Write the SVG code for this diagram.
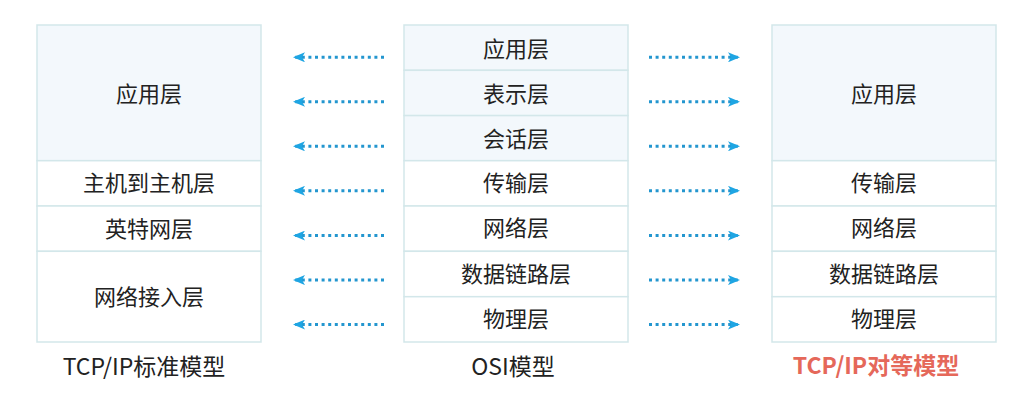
<svg xmlns="http://www.w3.org/2000/svg" width="1024" height="409" viewBox="0 0 1024 409">
<defs>
<style>
.cell{stroke:#d3e7ea;stroke-width:1.5}
.tint{fill:#f3f8fc}
.plain{fill:#ffffff}
.t{font-family:"Noto Sans CJK SC","Liberation Sans",sans-serif;font-size:22px;fill:#222222;text-anchor:middle}
.cap{font-family:"Noto Sans CJK SC","Liberation Sans",sans-serif;font-size:23px;fill:#222222;text-anchor:middle}
.red{fill:#e5685a;font-weight:bold}
.dot{stroke:#2396cf;stroke-width:3;stroke-dasharray:3 3.6;fill:none}
.head{fill:#1ea5e3}
</style>
<marker id="ah" viewBox="0 0 12 10" refX="12" refY="5" markerWidth="12" markerHeight="10" markerUnits="userSpaceOnUse" orient="auto">
<path d="M0,0 L12,5 L0,10 L3,5 Z" class="head"/>
</marker>
</defs>
<rect width="1024" height="409" fill="#ffffff"/>

<g id="tcpip-standard">
<g id="std-app"><rect class="cell tint" x="37" y="25" width="224" height="135.7"/><text class="t" x="149" y="102">应用层</text></g>
<g id="std-host"><rect class="cell plain" x="37" y="160.7" width="224" height="45.3"/><text class="t" x="149" y="191">主机到主机层</text></g>
<g id="std-internet"><rect class="cell plain" x="37" y="206" width="224" height="45.3"/><text class="t" x="149" y="236.5">英特网层</text></g>
<g id="std-access"><rect class="cell plain" x="37" y="251.3" width="224" height="90.7"/><text class="t" x="149" y="305">网络接入层</text></g>
</g>

<g id="osi">
<g id="osi-app"><rect class="cell tint" x="404" y="25" width="224" height="45.3"/><text class="t" x="516" y="57">应用层</text></g>
<g id="osi-pres"><rect class="cell tint" x="404" y="70.3" width="224" height="45.3"/><text class="t" x="516" y="102">表示层</text></g>
<g id="osi-sess"><rect class="cell tint" x="404" y="115.6" width="224" height="45.1"/><text class="t" x="516" y="146.5">会话层</text></g>
<g id="osi-trans"><rect class="cell plain" x="404" y="160.7" width="224" height="45.3"/><text class="t" x="516" y="191">传输层</text></g>
<g id="osi-net"><rect class="cell plain" x="404" y="206" width="224" height="45.3"/><text class="t" x="516" y="236">网络层</text></g>
<g id="osi-link"><rect class="cell plain" x="404" y="251.3" width="224" height="45.4"/><text class="t" x="516" y="281.5">数据链路层</text></g>
<g id="osi-phy"><rect class="cell plain" x="404" y="296.7" width="224" height="45.3"/><text class="t" x="516" y="327">物理层</text></g>
</g>

<g id="tcpip-peer">
<g id="peer-app"><rect class="cell tint" x="772" y="25" width="224" height="135.7"/><text class="t" x="884" y="101.5">应用层</text></g>
<g id="peer-trans"><rect class="cell plain" x="772" y="160.7" width="224" height="45.3"/><text class="t" x="884" y="191">传输层</text></g>
<g id="peer-net"><rect class="cell plain" x="772" y="206" width="224" height="45.3"/><text class="t" x="884" y="236">网络层</text></g>
<g id="peer-link"><rect class="cell plain" x="772" y="251.3" width="224" height="45.4"/><text class="t" x="884" y="281.5">数据链路层</text></g>
<g id="peer-phy"><rect class="cell plain" x="772" y="296.7" width="224" height="45.3"/><text class="t" x="884" y="327">物理层</text></g>
</g>

<g id="connectors">
<line class="dot" x1="384" y1="57.3" x2="293" y2="57.3" marker-end="url(#ah)"/>
<line class="dot" x1="384" y1="101.8" x2="293" y2="101.8" marker-end="url(#ah)"/>
<line class="dot" x1="384" y1="146.3" x2="293" y2="146.3" marker-end="url(#ah)"/>
<line class="dot" x1="384" y1="190.8" x2="293" y2="190.8" marker-end="url(#ah)"/>
<line class="dot" x1="384" y1="235.6" x2="293" y2="235.6" marker-end="url(#ah)"/>
<line class="dot" x1="384" y1="280.1" x2="293" y2="280.1" marker-end="url(#ah)"/>
<line class="dot" x1="384" y1="324.6" x2="293" y2="324.6" marker-end="url(#ah)"/>
<line class="dot" x1="649" y1="57.3" x2="740" y2="57.3" marker-end="url(#ah)"/>
<line class="dot" x1="649" y1="101.8" x2="740" y2="101.8" marker-end="url(#ah)"/>
<line class="dot" x1="649" y1="146.3" x2="740" y2="146.3" marker-end="url(#ah)"/>
<line class="dot" x1="649" y1="190.8" x2="740" y2="190.8" marker-end="url(#ah)"/>
<line class="dot" x1="649" y1="235.6" x2="740" y2="235.6" marker-end="url(#ah)"/>
<line class="dot" x1="649" y1="280.1" x2="740" y2="280.1" marker-end="url(#ah)"/>
<line class="dot" x1="649" y1="324.6" x2="740" y2="324.6" marker-end="url(#ah)"/>
</g>

<g id="captions">
<text class="cap" x="144" y="374.5">TCP/IP标准模型</text>
<text class="cap" x="513" y="374.5">OSI模型</text>
<text class="cap red" x="876" y="374">TCP/IP对等模型</text>
</g>
</svg>
